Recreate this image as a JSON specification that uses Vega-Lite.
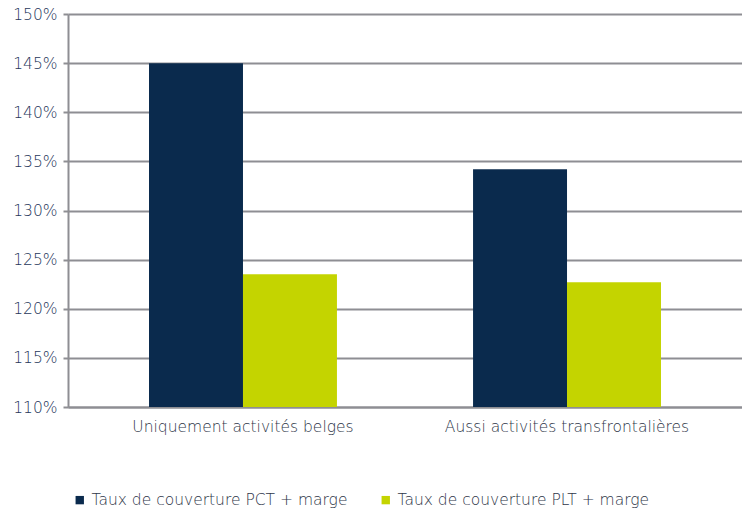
{
  "$schema": "https://vega.github.io/schema/vega-lite/v6.json",
  "width": 674,
  "height": 393,
  "autosize": {"type": "none"},
  "padding": {"left": 68, "top": 14, "right": 0, "bottom": 102},
  "background": "white",
  "config": {
    "view": {"stroke": null},
    "font": "DejaVu Sans"
  },
  "data": {
    "values": [
      {"categorie": "Uniquement activités belges", "serie": "Taux de couverture PCT + marge", "taux": 1.45},
      {"categorie": "Uniquement activités belges", "serie": "Taux de couverture PLT + marge", "taux": 1.235},
      {"categorie": "Aussi activités transfrontalières", "serie": "Taux de couverture PCT + marge", "taux": 1.342},
      {"categorie": "Aussi activités transfrontalières", "serie": "Taux de couverture PLT + marge", "taux": 1.227}
    ]
  },
  "mark": {"type": "bar", "clip": true},
  "encoding": {
    "x": {
      "field": "categorie",
      "type": "nominal",
      "sort": ["Uniquement activités belges", "Aussi activités transfrontalières"],
      "scale": {"paddingInner": 0.42, "paddingOuter": 0.25},
      "axis": {
        "title": null,
        "labelAngle": 0,
        "labelFontSize": 15.5,
        "labelColor": "#2E3648",
        "labelFontWeight": 200,
        "labelPadding": 12,
        "labelLimit": 400,
        "domainColor": "#8E8E93",
        "domainWidth": 2,
        "ticks": false
      }
    },
    "xOffset": {
      "field": "serie",
      "type": "nominal",
      "scale": {"paddingInner": 0, "paddingOuter": 0}
    },
    "y": {
      "field": "taux",
      "type": "quantitative",
      "scale": {"domain": [1.1, 1.5], "zero": false, "nice": false},
      "axis": {
        "title": null,
        "format": ".0%",
        "values": [1.1, 1.15, 1.2, 1.25, 1.3, 1.35, 1.4, 1.45, 1.5],
        "labelFontSize": 15.5,
        "labelColor": "#26365A",
        "labelFontWeight": 200,
        "labelPadding": 6,
        "domainColor": "#8E8E93",
        "domainWidth": 2,
        "tickColor": "#8E8E93",
        "tickWidth": 2,
        "tickSize": 5,
        "grid": true,
        "gridColor": "#8E8E93",
        "gridWidth": 2
      }
    },
    "color": {
      "field": "serie",
      "type": "nominal",
      "scale": {
        "domain": ["Taux de couverture PCT + marge", "Taux de couverture PLT + marge"],
        "range": ["#0A2A4D", "#C4D400"]
      },
      "legend": {
        "title": null,
        "orient": "none",
        "legendX": 4,
        "legendY": 478,
        "direction": "horizontal",
        "columns": 2,
        "columnPadding": 30,
        "symbolType": "square",
        "symbolSize": 70,
        "symbolStrokeWidth": 0,
        "symbolOpacity": 1,
        "labelFontSize": 15.5,
        "labelFontWeight": 200,
        "labelColor": "#2E3648",
        "labelOffset": 4,
        "labelLimit": 400
      }
    }
  }
}
